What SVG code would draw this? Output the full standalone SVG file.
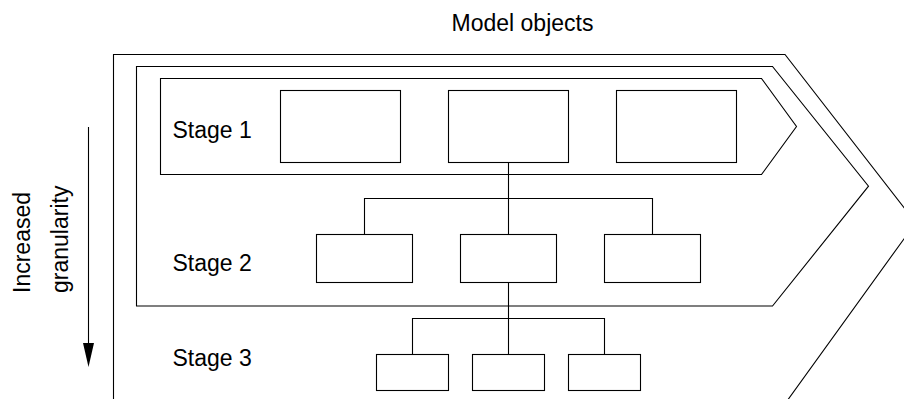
<svg xmlns="http://www.w3.org/2000/svg" width="904" height="399" viewBox="0 0 904 399">
<style>
.sh{fill:none;stroke:#000;stroke-width:1.1}
.bx{fill:#fff;stroke:#000;stroke-width:1.1}
.cn{fill:none;stroke:#000;stroke-width:1.1}
.t{font-family:"Liberation Sans",Arial,sans-serif;font-size:23px;fill:#000}
</style>
<rect width="904" height="399" fill="#fff"/>
<g id="outer-frame">
<polyline class="sh" points="113.5,402 113.5,54.5 785,54.5 915.7,222.6 787,401"/>
</g>
<g id="stage2-frame">
<polygon class="sh" points="136.5,66.5 772.5,66.5 868.5,186.2 772.5,306 136.5,306"/>
</g>
<g id="stage1-frame">
<polygon class="sh" points="160.5,78.5 761.5,78.5 796.5,126.5 761.5,174.5 160.5,174.5"/>
</g>
<text class="t" x="522.5" y="30.5" text-anchor="middle">Model objects</text>
<text class="t" x="172.5" y="138.3">Stage 1</text>
<text class="t" x="172.5" y="271">Stage 2</text>
<text class="t" x="172.5" y="366">Stage 3</text>
<g id="granularity-label">
<text class="t" transform="translate(29.5,293) rotate(-90)">Increased</text>
<text class="t" transform="translate(67.5,293) rotate(-90)">granularity</text>
<line class="cn" x1="88.5" y1="127" x2="88.5" y2="345"/>
<polygon points="83,343 94,343 88.5,367" fill="#000"/>
</g>
<g id="connectors">
<line class="cn" x1="508.5" y1="162.5" x2="508.5" y2="234.5"/>
<polyline class="cn" points="364.5,234.5 364.5,198.5 652.5,198.5 652.5,234.5"/>
<line class="cn" x1="508.5" y1="282.5" x2="508.5" y2="354.5"/>
<polyline class="cn" points="412.5,354.5 412.5,318.5 604.5,318.5 604.5,354.5"/>
</g>
<g id="s1-a"><rect class="bx" x="280.5" y="90.5" width="120" height="72"/></g>
<g id="s1-b"><rect class="bx" x="448.5" y="90.5" width="120" height="72"/></g>
<g id="s1-c"><rect class="bx" x="616.5" y="90.5" width="120" height="72"/></g>
<g id="s2-a"><rect class="bx" x="316.5" y="234.5" width="96" height="48"/></g>
<g id="s2-b"><rect class="bx" x="460.5" y="234.5" width="96" height="48"/></g>
<g id="s2-c"><rect class="bx" x="604.5" y="234.5" width="96" height="48"/></g>
<g id="s3-a"><rect class="bx" x="376.5" y="354.5" width="72" height="36"/></g>
<g id="s3-b"><rect class="bx" x="472.5" y="354.5" width="72" height="36"/></g>
<g id="s3-c"><rect class="bx" x="568.5" y="354.5" width="72" height="36"/></g>
</svg>
